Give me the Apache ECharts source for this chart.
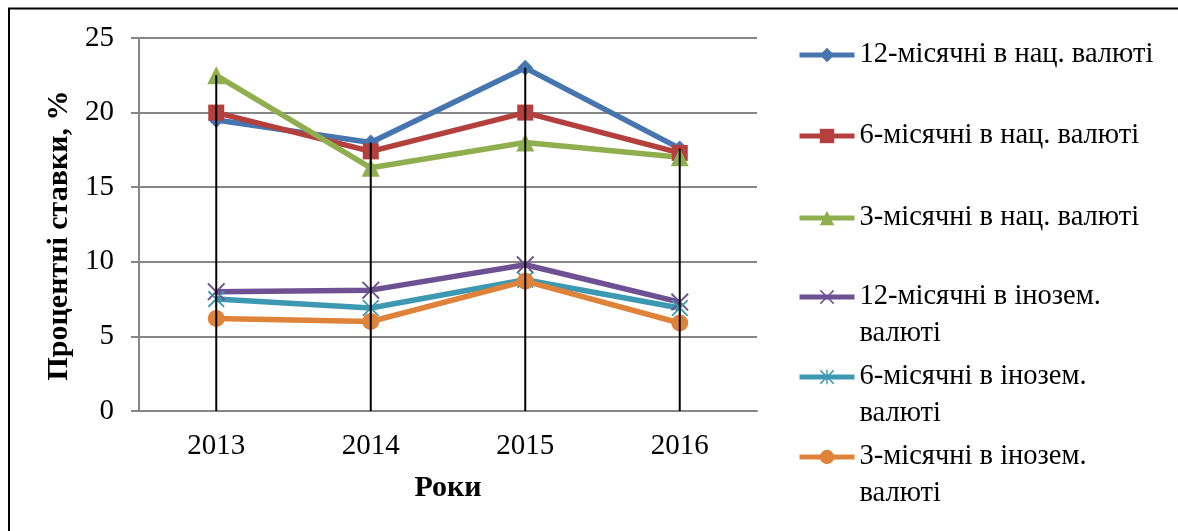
<!DOCTYPE html>
<html>
<head>
<meta charset="utf-8">
<script src="https://cdn.jsdelivr.net/npm/echarts@6/dist/echarts.min.js"></script>
<style>
html,body{margin:0;padding:0;background:#fff;}
#chart{width:1178px;height:531px;}
</style>
</head>
<body>
<div id="chart"></div>
<script>
var years = ['2013', '2014', '2015', '2016'];
var names = [
  '12-місячні в нац. валюті',
  '6-місячні в нац. валюті',
  '3-місячні в нац. валюті',
  '12-місячні в інозем. валюті',
  '6-місячні в інозем. валюті',
  '3-місячні в інозем. валюті'
];
var nat12 = [19.5, 18.0, 23.0, 17.6];
var nat6 = [20.0, 17.4, 20.0, 17.3];
var nat3 = [22.5, 16.3, 18.0, 17.0];
var for12 = [8.0, 8.1, 9.8, 7.3];
var for6 = [7.5, 6.9, 8.8, 6.9];
var for3 = [6.2, 6.0, 8.7, 5.9];
var yAxisTitle = 'Процентні ставки, %';
var xAxisTitle = 'Роки';

var allSeries = [nat12, nat6, nat3, for12, for6, for3];
var colors = ['#4675b0', '#b3403d', '#8fae4e', '#6e5193', '#3d98b1', '#e0833a'];
var crossPath = 'path://M1.5,0 L10,8.5 L18.5,0 L20,1.5 L11.5,10 L20,18.5 L18.5,20 L10,11.5 L1.5,20 L0,18.5 L8.5,10 L0,1.5 Z';
var starPath = 'path://M1.5,0 L10,8.5 L18.5,0 L20,1.5 L11.5,10 L20,18.5 L18.5,20 L10,11.5 L1.5,20 L0,18.5 L8.5,10 L0,1.5 Z M9,0 L11,0 L11,20 L9,20 Z';
var symbols = ['diamond', 'rect', 'triangle', crossPath, starPath, 'circle'];
var symbolSizes = [16, 16, 18, 18, 17, 17];

var dropTops = years.map(function (y, i) {
  return Math.max.apply(null, allSeries.map(function (s) { return s[i]; }));
});

var FONT = 'Liberation Serif, Times New Roman, serif';

var series = allSeries.map(function (data, i) {
  return {
    name: names[i],
    type: 'line',
    data: data,
    symbol: symbols[i],
    symbolSize: symbolSizes[i],
    itemStyle: { color: colors[i] },
    lineStyle: { color: colors[i], width: 5.5 },
    z: 3
  };
});
series.push({
  name: 'drop',
  type: 'bar',
  data: dropTops,
  barWidth: 2,
  itemStyle: { color: '#000' },
  silent: true,
  z: 4
});

var legendCenters = [55, 136, 218, 297, 377, 457];
var legends = names.map(function (n, i) {
  var wrapped = i >= 3;
  return {
    data: [n],
    orient: 'vertical',
    left: 797,
    top: wrapped ? legendCenters[i] - 55.5 : legendCenters[i] - 18.5,
    padding: 0,
    itemWidth: 55,
    itemHeight: 18,
    itemGap: 0,
    selectedMode: false,
    lineStyle: { width: 5 },
    formatter: function (name) {
      return wrapped ? '\n' + name.replace(' валюті', '\nвалюті') : name;
    },
    textStyle: {
      fontFamily: FONT,
      fontSize: 28.5,
      color: '#000',
      lineHeight: 37
    }
  };
});

var chart = echarts.init(document.getElementById('chart'));
chart.setOption({
  animation: false,
  backgroundColor: '#fff',
  textStyle: { fontFamily: FONT },
  graphic: [{
    type: 'rect',
    shape: { x: 9, y: 8.5, width: 1300, height: 700 },
    style: { fill: 'none', stroke: '#000', lineWidth: 2 },
    silent: true,
    z: 100
  }],
  grid: { left: 139, right: 421, top: 38, bottom: 120 },
  legend: legends,
  xAxis: {
    type: 'category',
    data: years,
    boundaryGap: true,
    axisLine: { lineStyle: { color: '#868686', width: 2 } },
    axisTick: { show: false },
    axisLabel: { fontFamily: FONT, fontSize: 29, color: '#000', margin: 21 },
    name: xAxisTitle,
    nameLocation: 'middle',
    nameGap: 62,
    nameTextStyle: { fontFamily: FONT, fontSize: 30, fontWeight: 'bold', color: '#000' }
  },
  yAxis: {
    type: 'value',
    min: 0,
    max: 25,
    interval: 5,
    axisLine: { show: true, lineStyle: { color: '#868686', width: 2 } },
    axisTick: { show: true, length: 8, lineStyle: { color: '#868686', width: 2 } },
    splitLine: { lineStyle: { color: '#868686', width: 2 } },
    axisLabel: { fontFamily: FONT, fontSize: 29, color: '#000', margin: 25 },
    name: yAxisTitle,
    nameLocation: 'middle',
    nameGap: 65,
    nameTextStyle: { fontFamily: FONT, fontSize: 30, fontWeight: 'bold', color: '#000', padding: [0, 22, 0, 0] }
  },
  series: series
});
</script>
</body>
</html>
